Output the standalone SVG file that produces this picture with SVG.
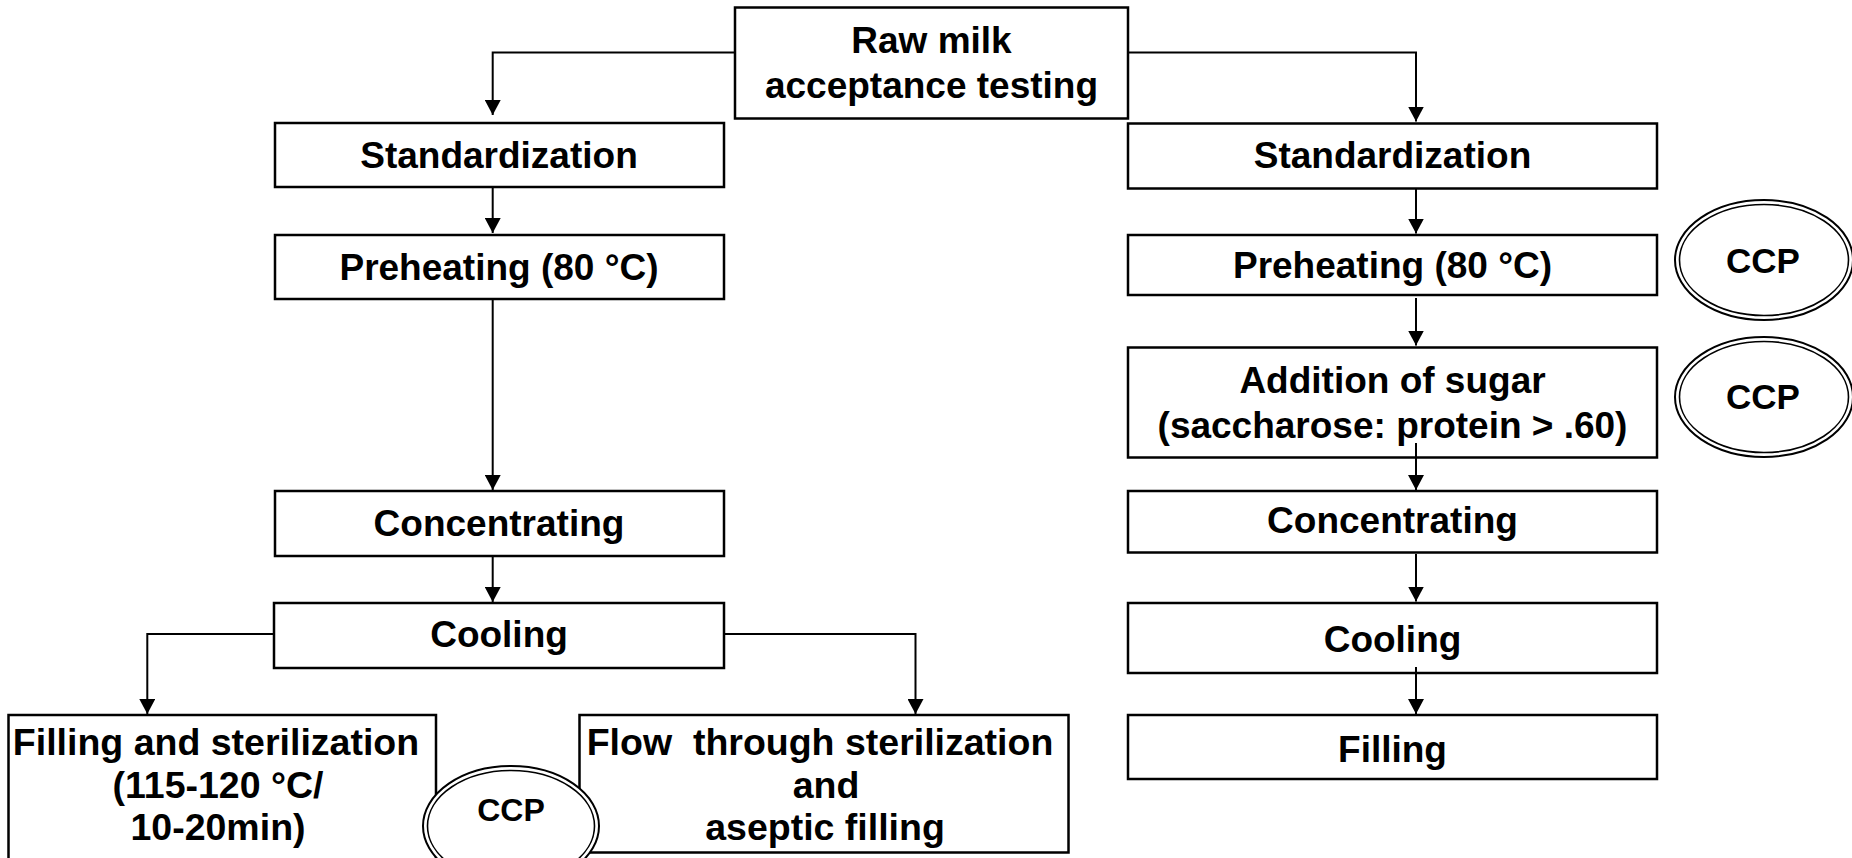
<svg xmlns="http://www.w3.org/2000/svg" width="1852" height="858" viewBox="0 0 1852 858">
  <defs>
    <style>
      .box { fill: #ffffff; stroke: #000000; stroke-width: 2.5; }
      .lbl { font-family: "Liberation Sans", Arial, sans-serif; font-weight: bold; font-size: 37px; fill: #000000; text-anchor: middle; }
      .big { font-size: 37.5px; }
      .ccp-o { fill: #ffffff; stroke: #000000; stroke-width: 2; }
      .ccp-i { fill: none; stroke: #000000; stroke-width: 1.6; }
      .ccp-t { font-size: 35px; }
      .edge { fill: none; stroke: #000000; stroke-width: 2; marker-end: url(#arrow); }
    </style>
    <marker id="arrow" viewBox="0 -8 15 16" refX="15" refY="0" markerWidth="15" markerHeight="16" markerUnits="userSpaceOnUse" orient="auto">
      <path d="M0,-8 L15,0 L0,8 z" fill="#000000"/>
    </marker>
  </defs>

  <rect width="1852" height="858" fill="#ffffff"/>

  <!-- process steps -->
  <g id="raw-milk">
    <rect class="box" x="735" y="7.5" width="393" height="111"/>
    <text class="lbl" x="931.5" y="53">Raw milk</text>
    <text class="lbl" x="931.5" y="98">acceptance testing</text>
  </g>

  <g id="std-a">
    <rect class="box" x="275" y="123" width="449" height="64"/>
    <text class="lbl" x="499" y="168">Standardization</text>
  </g>
  <g id="preheat-a">
    <rect class="box" x="275" y="235" width="449" height="64"/>
    <text class="lbl" x="499" y="280">Preheating (80 °C)</text>
  </g>
  <g id="conc-a">
    <rect class="box" x="275" y="491" width="449" height="65"/>
    <text class="lbl" x="499" y="536">Concentrating</text>
  </g>
  <g id="cool-a">
    <rect class="box" x="274" y="603" width="450" height="65"/>
    <text class="lbl" x="499" y="647">Cooling</text>
  </g>
  <g id="fill-steril">
    <rect class="box" x="8.5" y="715" width="427.5" height="170"/>
    <text class="lbl big" x="216" y="755">Filling and sterilization</text>
    <text class="lbl big" x="218" y="798">(115-120 °C/</text>
    <text class="lbl big" x="218" y="840">10-20min)</text>
  </g>
  <g id="flow-steril">
    <rect class="box" x="579.5" y="715" width="489" height="137.5"/>
    <text class="lbl big" x="820" y="755" style="white-space:pre" xml:space="preserve">Flow  through sterilization</text>
    <text class="lbl big" x="826" y="798">and</text>
    <text class="lbl big" x="825" y="840">aseptic filling</text>
  </g>

  <g id="std-b">
    <rect class="box" x="1128" y="123.5" width="529" height="65"/>
    <text class="lbl" x="1392.5" y="168">Standardization</text>
  </g>
  <g id="preheat-b">
    <rect class="box" x="1128" y="235" width="529" height="60"/>
    <text class="lbl" x="1392.5" y="278">Preheating (80 °C)</text>
  </g>
  <g id="sugar-b">
    <rect class="box" x="1128" y="347.5" width="529" height="110"/>
    <text class="lbl" x="1392.5" y="393">Addition of sugar</text>
    <text class="lbl" x="1392.5" y="438">(saccharose: protein &gt; .60)</text>
  </g>
  <g id="conc-b">
    <rect class="box" x="1128" y="491" width="529" height="61.5"/>
    <text class="lbl" x="1392.5" y="533">Concentrating</text>
  </g>
  <g id="cool-b">
    <rect class="box" x="1128" y="603" width="529" height="70"/>
    <text class="lbl" x="1392.5" y="652">Cooling</text>
  </g>
  <g id="fill-b">
    <rect class="box" x="1128" y="715" width="529" height="64"/>
    <text class="lbl" x="1392.5" y="762">Filling</text>
  </g>

  <!-- flow arrows -->
  <g id="connectors">
    <path class="edge" d="M735,52.5 H492.7 V115"/>
    <path class="edge" d="M1128,52.5 H1416 V121.5"/>
    <path class="edge" d="M492.7,187 V233"/>
    <path class="edge" d="M492.7,299 V490"/>
    <path class="edge" d="M492.7,556 V602"/>
    <path class="edge" d="M274,634 H147.3 V714"/>
    <path class="edge" d="M724,634 H915.5 V714"/>
    <path class="edge" d="M1416,189 V233.5"/>
    <path class="edge" d="M1416,298 V345.5"/>
    <path class="edge" d="M1416,443 V490"/>
    <path class="edge" d="M1416,554 V601.5"/>
    <path class="edge" d="M1416,667 V714"/>
  </g>

  <!-- critical control points -->
  <g id="ccp-preheat">
    <ellipse class="ccp-o" cx="1764" cy="260" rx="89" ry="60"/>
    <ellipse class="ccp-i" cx="1764" cy="260" rx="84.5" ry="55.5"/>
    <text class="lbl ccp-t" x="1763" y="273">CCP</text>
  </g>
  <g id="ccp-sugar">
    <ellipse class="ccp-o" cx="1764" cy="397" rx="89" ry="60"/>
    <ellipse class="ccp-i" cx="1764" cy="397" rx="84.5" ry="55.5"/>
    <text class="lbl ccp-t" x="1763" y="409">CCP</text>
  </g>
  <g id="ccp-steril">
    <ellipse class="ccp-o" cx="511" cy="826" rx="88" ry="60"/>
    <ellipse class="ccp-i" cx="511" cy="826" rx="83.5" ry="55.5"/>
    <text class="lbl" x="511" y="821" style="font-size:32px">CCP</text>
  </g>
</svg>
